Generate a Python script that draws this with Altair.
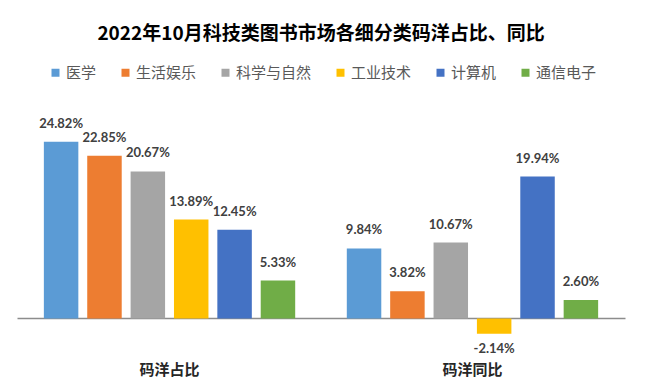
import altair as alt
import pandas as pd

groups = ["码洋占比", "码洋同比"]
series = ["医学", "生活娱乐", "科学与自然", "工业技术", "计算机", "通信电子"]
share = [24.82, 22.85, 20.67, 13.89, 12.45, 5.33]
yoy = [9.84, 3.82, 10.67, -2.14, 19.94, 2.60]
colors = ["#5B9BD5", "#ED7D31", "#A5A5A5", "#FFC000", "#4472C4", "#70AD47"]

rows = []
for g, vals in zip(groups, [share, yoy]):
    for s, v in zip(series, vals):
        rows.append({"group": g, "series": s, "value": v,
                     "label": f"{v:.2f}%"})
df = pd.DataFrame(rows)

CJK = "Noto Sans CJK SC"

xenc = alt.X(
    "group:N", sort=groups, title=None,
    scale=alt.Scale(paddingInner=0.141, paddingOuter=0.074),
    axis=alt.Axis(domain=False, ticks=False, grid=False, labelAngle=0, labelFontSize=15,
                  labelFontWeight="bold", labelFont=CJK, labelColor="#262626",
                  labelPadding=8, labelBaseline="top"),
)
xoff = alt.XOffset("series:N", sort=series,
                   scale=alt.Scale(paddingInner=0.205, paddingOuter=0.1025))
yenc = alt.Y(
    "value:Q", scale=alt.Scale(domain=[-5, 30], nice=False, zero=False),
    axis=alt.Axis(values=[0], grid=True, gridColor="#8C8C8C", gridWidth=1.5,
                  domain=False, ticks=False, labels=False, title=None),
)

base = alt.Chart(df).encode(x=xenc, xOffset=xoff, y=yenc)

bars = base.mark_bar().encode(
    color=alt.Color(
        "series:N", sort=series,
        scale=alt.Scale(domain=series, range=colors),
        legend=alt.Legend(
            title=None, orient="none", legendX=31, legendY=-40, direction="horizontal",
            symbolType="square", symbolSize=64, symbolStrokeWidth=0,
            labelFont=CJK, labelFontSize=15, labelColor="#595959", labelOffset=3,
            columnPadding=21,
        ),
    )
)

pos_labels = base.transform_filter("datum.value >= 0").mark_text(
    baseline="middle", dy=-18, font="Lato", fontWeight="bold", fontSize=13, color="#404040"
).encode(text="label:N")

neg_labels = base.transform_filter("datum.value < 0").mark_text(
    baseline="middle", dy=15, font="Lato", fontWeight="bold", fontSize=13, color="#404040"
).encode(text="label:N")

chart = alt.layer(bars, pos_labels, neg_labels).properties(
    width=608,
    height=249,
    autosize=alt.AutoSizeParams(type="none"),
    padding={"left": 9, "top": 97, "right": 12, "bottom": 26},
    title=alt.Title(
        "2022年10月科技类图书市场各细分类码洋占比、同比",
        font=CJK, fontSize=19, fontWeight="bold", color="#000000",
        anchor="middle", offset=21,
    ),
).configure_view(stroke=None)

chart.save("out.html", embed_options={"renderer": "svg", "actions": False})
